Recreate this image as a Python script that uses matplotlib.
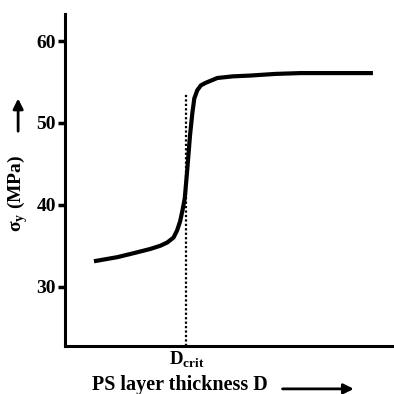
"""Yield stress vs PS layer thickness, sketch style"""

import matplotlib
matplotlib.use('Agg')
import matplotlib.pyplot as plt

# curve (arbitrary thickness units)
thickness = [8.8, 15.9, 21.0, 25.9, 29.0, 31.1, 33.0, 34.1, 35.0, 35.7, 36.4,
             37.2, 38.0, 38.7, 39.3, 40.2, 41.3, 42.7, 46.3, 51.0, 56.4, 64.0,
             71.6, 82.0, 93.6]
sigma_y = [33.1, 33.6, 34.1, 34.6, 35.0, 35.4, 36.0, 36.9, 38.0, 39.3, 40.8,
           44.5, 48.5, 51.2, 53.0, 54.0, 54.6, 54.9, 55.5, 55.7, 55.8, 56.0,
           56.1, 56.1, 56.1]
d_crit = 36.9
d_crit_top = 53.6
yticks = [30, 40, 50, 60]

plt.rcParams['font.family'] = 'Liberation Serif'
plt.rcParams['font.weight'] = 'bold'
plt.rcParams['mathtext.fontset'] = 'custom'
plt.rcParams['mathtext.rm'] = 'Liberation Serif:bold'
plt.rcParams['mathtext.bf'] = 'Liberation Serif:bold'

fig = plt.figure(figsize=(3.94, 3.94), dpi=100, facecolor='w')
ax = fig.add_axes([0.165, 0.122, 0.835, 0.842])

ax.plot(thickness, sigma_y, color='k', lw=3, solid_capstyle='butt')
ax.plot([d_crit, d_crit], [22.75, d_crit_top], color='k', lw=1.6, ls=(0, (1, 1)))

ax.set_xlim(0, 100)
ax.set_ylim(22.75, 63.3)

for s in ['top', 'right']:
    ax.spines[s].set_visible(False)
for s in ['left', 'bottom']:
    ax.spines[s].set_linewidth(2.2)

ax.set_yticks(yticks)
ax.set_yticklabels([str(v) for v in yticks], fontsize=14, fontweight='bold')
ax.tick_params(axis='y', length=5, width=2.5, pad=1.5)
ax.set_xticks([d_crit])
ax.set_xticklabels([r'D$_{\mathrm{crit}}$'], fontsize=13.5)
ax.tick_params(axis='x', length=0, pad=3)

fig.text(0.046, 0.51, r'σ$_{\mathrm{y}}$ (MPa)', rotation=90, fontsize=14,
         fontweight='bold', ha='center', va='center')
fig.text(0.457, 0.022, 'PS layer thickness D', fontsize=14.5,
         fontweight='bold', ha='center', va='center')

# arrows next to the labels
fig.add_artist(matplotlib.patches.FancyArrowPatch(
    (0.046, 0.66), (0.046, 0.757), transform=fig.transFigure,
    arrowstyle='-|>,head_length=6,head_width=3', lw=2, color='k',
    mutation_scale=1))
fig.add_artist(matplotlib.patches.FancyArrowPatch(
    (0.71, 0.013), (0.905, 0.013), transform=fig.transFigure,
    arrowstyle='-|>,head_length=6,head_width=3', lw=2, color='k',
    mutation_scale=1))

fig.savefig('out.png', dpi=100, facecolor=fig.get_facecolor())
